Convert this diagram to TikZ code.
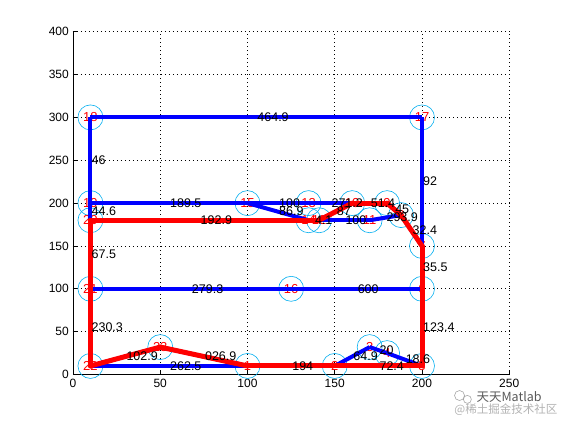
\documentclass[tikz,border=0pt]{standalone}
\usepackage{fontspec}
\setmainfont{Liberation Sans}
\newfontfamily\cjkfont{Noto Sans CJK SC}

\def\edgelist{18/17/464.9, 18/19/46, 17/7/92, 19/15/189.5, 19/20/44.6,
  15/13/100, 15/14/86.9, 13/10/271.2, 14/12/4.1, 12/10/87, 12/11/100,
  11/8/293.9, 10/9/51.4, 9/8/45, 8/7/32.4, 20/14/192.9, 20/21/67.5,
  21/16/279.3, 16/6/600, 7/6/35.5, 6/5/123.4, 21/22/230.3, 22/23/102.9,
  22/1/262.5, 23/1/026.9, 1/2/194, 2/3/64.9, 3/4/20, 4/5/18.6, 2/5/72.4}

\begin{document}
\begin{tikzpicture}[x=1.745pt,y=0.857pt,
    vertex/.style={circle,draw=cyan,line width=0.6pt,minimum size=25pt,inner sep=0pt,
      text=red,font=\fontsize{13}{13}\selectfont},
    blueedge/.style={draw=blue,line width=4pt},
    redpath/.style={draw=red,line width=5pt,line cap=round},
    weight/.style={anchor=west,inner sep=1pt,font=\fontsize{12.5}{12.5}\selectfont},
    gridline/.style={line width=0.8pt,dash pattern=on 0.8pt off 3.2pt},
    ticklabel/.style={inner sep=0pt,font=\fontsize{12}{12}\selectfont}]
  \useasboundingbox (-41.83,-53.09) rectangle (280.23,437);

  \foreach \gx in {50,100,...,250}
    \draw[gridline] (\gx,0) -- (\gx,400);
  \foreach \gy in {50,100,...,400}
    \draw[gridline] (0,\gy) -- (250,\gy);
  \draw[line width=0.8pt] (0,400) -- (0,0) -- (250,0);
  \foreach \gx in {0,50,...,250} {
    \draw[line width=0.8pt] (\gx,0) -- ++(0,5pt);
    \node[ticklabel,anchor=north] (xt\gx) at ([yshift=-4pt]\gx,0) {\gx};
  }
  \foreach \gy in {0,50,...,400} {
    \draw[line width=0.8pt] (0,\gy) -- ++(5pt,0);
    \node[ticklabel,anchor=east] (yt\gy) at ([xshift=-4pt]0,\gy) {\gy};
  }

  \node[vertex] (n1) at (100,10) {1};
  \node[vertex] (n2) at (150,10) {2};
  \node[vertex] (n3) at (170,32) {3};
  \node[vertex] (n4) at (180,25) {4};
  \node[vertex] (n5) at (200,10) {5};
  \node[vertex] (n6) at (200,100) {6};
  \node[vertex] (n7) at (200,150) {7};
  \node[vertex] (n8) at (188,186) {8};
  \node[vertex] (n9) at (180,200) {9};
  \node[vertex] (n10) at (160,200) {10};
  \node[vertex] (n11) at (170,180) {11};
  \node[vertex] (n12) at (141,180) {12};
  \node[vertex] (n13) at (135,200) {13};
  \node[vertex] (n14) at (135,180) {14};
  \node[vertex] (n15) at (100,200) {15};
  \node[vertex] (n16) at (125,100) {16};
  \node[vertex] (n17) at (200,300) {17};
  \node[vertex] (n18) at (10,300) {18};
  \node[vertex] (n19) at (10,200) {19};
  \node[vertex] (n20) at (10,180) {20};
  \node[vertex] (n21) at (10,100) {21};
  \node[vertex] (n22) at (10,10) {22};
  \node[vertex] (n23) at (50,32) {23};

  \foreach \a/\b/\w in \edgelist
    \draw[blueedge] (n\a.center) -- (n\b.center);
  \foreach \a/\b in {20/14, 14/12, 12/10, 10/9, 9/8, 8/7, 7/6, 6/5, 5/1,
      1/23, 23/22, 22/21, 21/20}
    \draw[redpath] (n\a.center) -- (n\b.center);
  \foreach \a/\b/\w in \edgelist
    \path (n\a.center) -- node[weight] (w\a-\b) {\w} (n\b.center);

  \draw[black!35,line width=0.6pt] (221.5,-24.5) circle [radius=5pt]
    (226,-29) circle [radius=4pt];
  \node[text=black!65,font=\cjkfont\fontsize{12.5}{13}\selectfont] (mark) at (249.9,-26.3) {天天Matlab};
  \node[text=black!30,font=\cjkfont\fontsize{11.5}{12}\selectfont] (site) at (248.1,-41.4) {@稀土掘金技术社区};
\end{tikzpicture}
\end{document}
